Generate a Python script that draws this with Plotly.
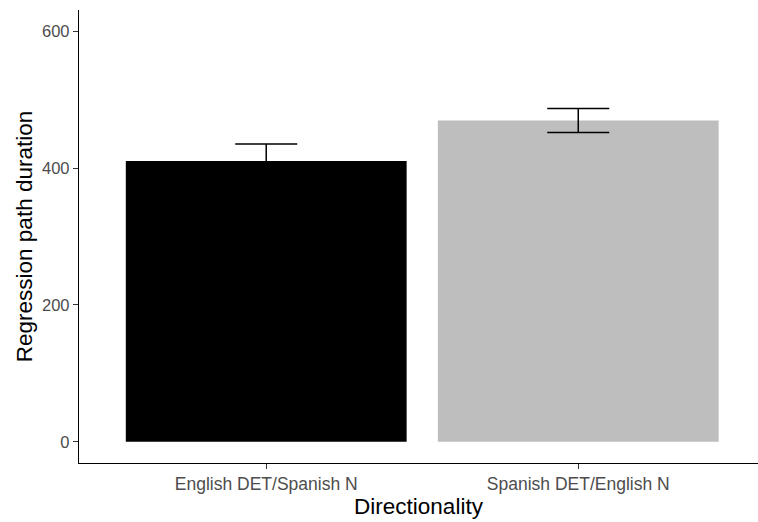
import plotly.graph_objects as go

# Mean regression path duration by directionality, with error bars
categories = ["English DET/Spanish N", "Spanish DET/English N"]
means = [410.5, 469.5]
errors = [24.5, 17.5]
bar_colors = ["#000000", "#BEBEBE"]
y_ticks = [0, 200, 400, 600]

fig = go.Figure(
    go.Bar(
        x=categories,
        y=means,
        marker=dict(color=bar_colors, line=dict(width=0)),
        width=0.9,
        error_y=dict(type="data", array=errors, visible=True,
                     color="#000000", thickness=1.5, width=31),
    )
)

fig.update_layout(
    width=758,
    height=522,
    margin=dict(l=79, r=0, t=10, b=59),
    plot_bgcolor="white",
    paper_bgcolor="white",
    showlegend=False,
    font=dict(family="Liberation Sans, Arial, sans-serif"),
    xaxis=dict(
        range=[-0.6, 1.576],
        showline=True, linecolor="black", linewidth=1.3,
        ticks="outside", ticklen=5, tickcolor="#333333",
        tickfont=dict(size=17.5, color="#4D4D4D"),
        title=dict(text="Directionality", font=dict(size=22.5, color="black"), standoff=4),
        showgrid=False, zeroline=False,
    ),
    yaxis=dict(
        range=[-31, 631],
        tickvals=y_ticks,
        showline=True, linecolor="black", linewidth=1.3,
        ticks="outside", ticklen=5, tickcolor="#333333",
        tickfont=dict(size=16.5, color="#4D4D4D"),
        title=dict(text="Regression path duration", font=dict(size=22.5, color="black"), standoff=3),
        showgrid=False, zeroline=False,
    ),
)

fig.write_html("out.html")
